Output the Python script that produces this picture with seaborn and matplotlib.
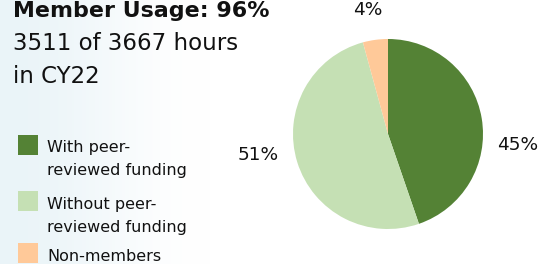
import numpy as np
import matplotlib
matplotlib.use("Agg")
import matplotlib.pyplot as plt
from matplotlib.patches import Rectangle
import seaborn as sns

# ---- data ----
categories = ["With peer-\nreviewed funding", "Without peer-\nreviewed funding", "Non-members"]
hours = [1640, 1871, 156]
pct_labels = ["45%", "51%", "4%"]
colors = ["#548235", "#c5e0b4", "#ffc999"]
title_lines = ["Member Usage: 96%", "3511 of 3667 hours", "in CY22"]

sns.set_theme(style="white")
plt.rcParams["font.family"] = ["DejaVu Sans"]

W, H = 540, 264
fig = plt.figure(figsize=(W / 100, H / 100), dpi=100)

# background gradient
bg = fig.add_axes([0, 0, 1, 1])
xs = np.linspace(0, 1, W)
t = np.clip(xs * W / 210.0, 0, 1)
t = t * t * (3 - 2 * t)
c0 = np.array([0xea, 0xf4, 0xf8]) / 255.0
c1 = np.array([1.0, 1.0, 1.0])
grad = (c0[None, :] * (1 - t[:, None]) + c1[None, :] * t[:, None])[None, :, :]
bg.imshow(grad, aspect="auto", extent=[0, 1, 0, 1])
bg.set_axis_off()

def fx(px):
    return px / W

def fy(py):
    return 1 - py / H

# pie
cx, cy, r = 388, 134, 95
ax = fig.add_axes([fx(cx - r), fy(cy + r), 2 * r / W, 2 * r / H])
ax.pie(hours, colors=colors, startangle=90, counterclock=False, radius=1,
       wedgeprops=dict(linewidth=0))
ax.set_xlim(-1, 1)
ax.set_ylim(-1, 1)
ax.set_aspect("equal")
ax.set_axis_off()

# percentage labels
label_pos = [(518, 144.5), (258, 154.5), (368, 10)]
for lab, (x, y) in zip(pct_labels, label_pos):
    fig.text(fx(x), fy(y), lab, ha="center", va="center", fontsize=13.3, color="#111111")

# title block
title_baselines = [17, 50, 83]
title_sizes = [15.9, 16.5, 16.5]
for i, (line, yb, fs) in enumerate(zip(title_lines, title_baselines, title_sizes)):
    fig.text(fx(13), fy(yb), line, ha="left", va="baseline", fontsize=fs,
             fontweight="bold" if i == 0 else "normal", color="#111111")

# legend
patch_tops = [135, 191, 243]
first_baselines = [152, 209, 261]
for cat, col, pt, bl in zip(categories, colors, patch_tops, first_baselines):
    fig.patches.append(Rectangle((fx(18), fy(pt + 20)), 20 / W, 20 / H,
                                 transform=fig.transFigure, facecolor=col,
                                 edgecolor="none", zorder=3))
    for j, line in enumerate(cat.split("\n")):
        fig.text(fx(47), fy(bl + 23 * j), line, ha="left", va="baseline",
                 fontsize=11.5, color="#111111")

fig.savefig("out.png", dpi=100)
